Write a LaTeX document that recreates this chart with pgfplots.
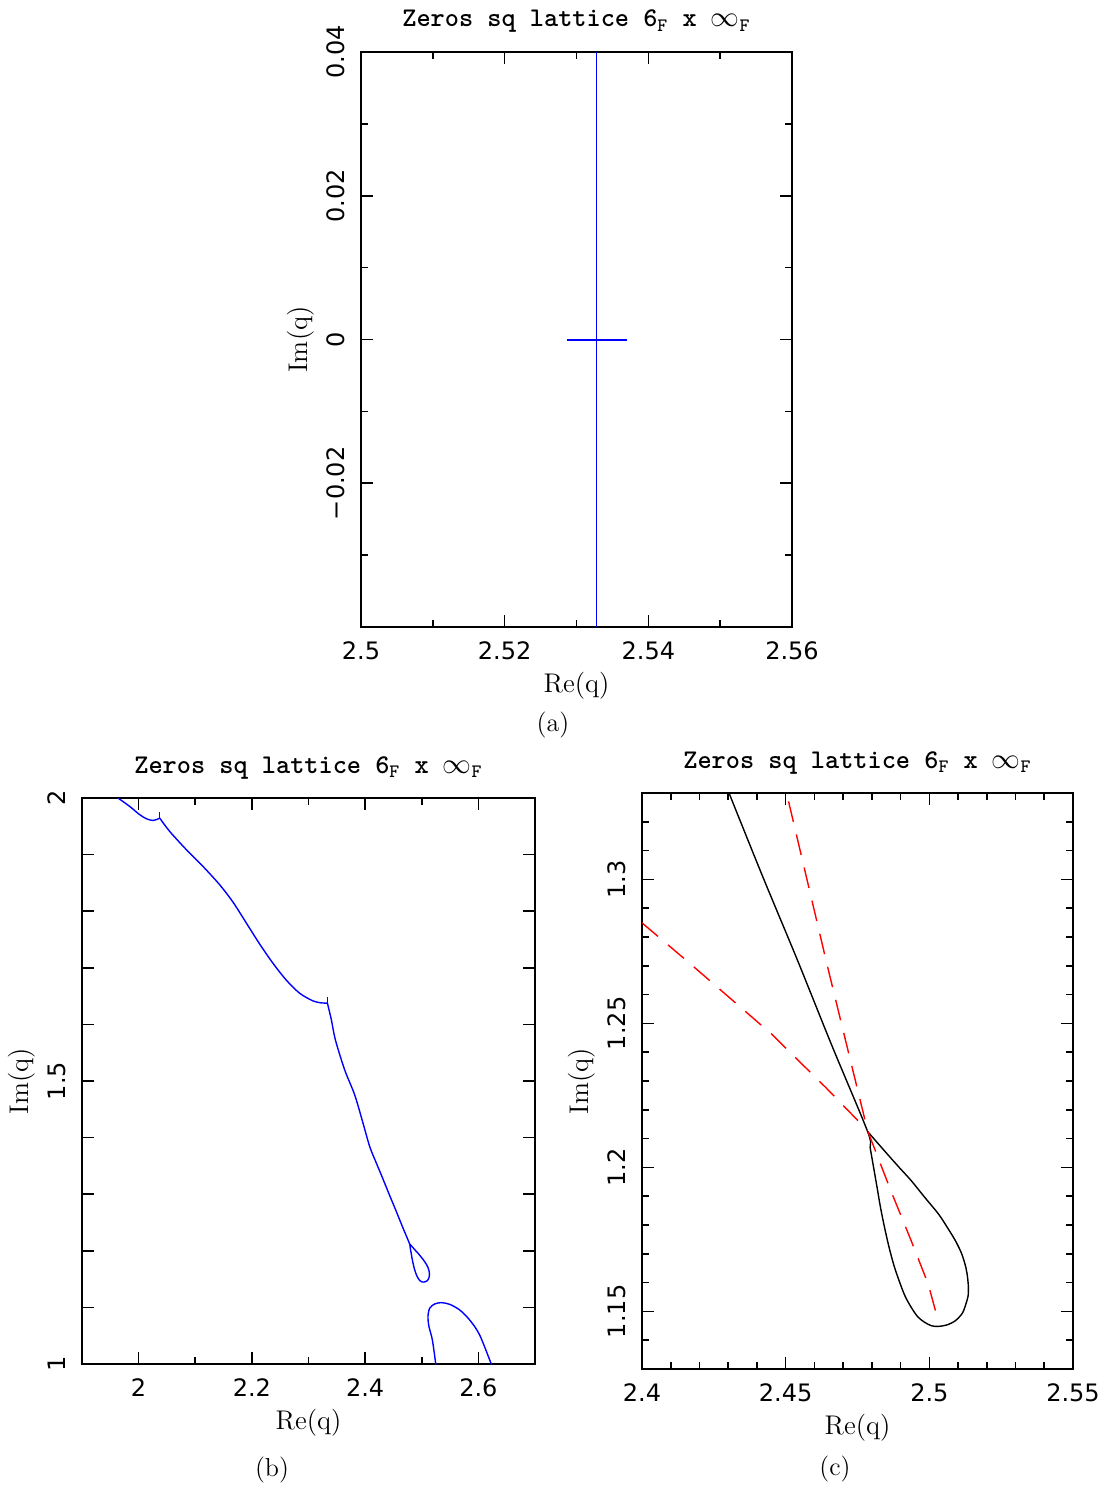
\documentclass[border=0pt]{standalone}
\usepackage{fontspec}
\usepackage{pgfplots}
\pgfplotsset{compat=1.18}
\newfontfamily\tickfont{DejaVu Sans}

\pgfplotsset{
  zstyle/.style={
    scale only axis,
    scaled x ticks=false, scaled y ticks=false,
    axis line style={line width=1pt},
    tick align=inside,
    xtick pos=both, ytick pos=both,
    xticklabel pos=lower, yticklabel pos=left,
    major tick length=6pt, minor tick length=3.5pt,
    every tick/.style={black, line width=0.8pt},
    tick label style={font=\fontsize{12}{14}\selectfont\tickfont},
    xticklabel style={anchor=base, yshift=-16pt},
    yticklabel style={rotate=90, anchor=south, inner ysep=8pt},
    xlabel={Re(q)}, ylabel={Im(q)},
    label style={font=\fontsize{13.5}{15}\selectfont},
    xlabel style={at={(axis description cs:0.5,0)}, anchor=base, yshift=-32.5pt},
    ylabel style={at={(axis description cs:0,0.5)}, anchor=south, inner ysep=23pt},
    title={Zeros sq lattice 6$_{\mathtt{F}}$ x $\infty_{\mathtt{F}}$},
    title style={at={(axis description cs:0.5,1)}, anchor=base, yshift=6.5pt,
      font=\fontsize{13.5}{15}\selectfont\ttfamily\bfseries},
  }
}

\begin{document}
\begin{tikzpicture}
\path[use as bounding box] (0pt,0pt) rectangle (552.5pt,-743.5pt);

% ---------------- (a)
\begin{axis}[zstyle,
  at={(180.5pt,-26pt)}, anchor=north west,
  width=215.5pt, height=287.5pt,
  xmin=2.5, xmax=2.56, ymin=-0.04, ymax=0.04,
  xtick={2.5,2.52,2.54,2.56}, xticklabels={2.5,2.52,2.54,2.56},
  minor xtick={2.51,2.53,2.55},
  ytick={-0.02,0,0.02,0.04}, yticklabels={−0.02,0,0.02,0.04},
  minor ytick={-0.03,-0.01,0.01,0.03},
]
\addplot[blue, line width=0.7pt] coordinates {(2.5328,-0.04) (2.5328,0.04)};
\addplot[blue, line width=1pt] coordinates {(2.5287,0) (2.5370,0)};
\end{axis}

% ---------------- (b)
\begin{axis}[zstyle,
  at={(41pt,-399pt)}, anchor=north west,
  width=226.5pt, height=283pt,
  xmin=1.9, xmax=2.7, ymin=1, ymax=2,
  xtick={2,2.2,2.4,2.6}, xticklabels={2,2.2,2.4,2.6},
  minor xtick={2.1,2.3,2.5},
  ytick={1,1.1,1.2,1.3,1.4,1.5,1.6,1.7,1.8,1.9,2},
  yticklabels={1,{},{},{},{},1.5,{},{},{},{},2},
]
\addplot[blue, line width=0.7pt, smooth] coordinates {
(1.9600,2.0030) (1.9636,2.0000) (1.9842,1.9852) (2.0019,1.9705) (2.0148,1.9629)
(2.0254,1.9604) (2.0342,1.9629) (2.0372,1.9646)
};
\addplot[blue, line width=0.7pt, smooth] coordinates {
(2.0372,1.9646) (2.0549,1.9410) (2.0844,1.9086) (2.1137,1.8791) (2.1432,1.8467)
(2.1667,1.8160) (2.1903,1.7790) (2.2138,1.7420) (2.2373,1.7080) (2.2610,1.6780)
(2.2845,1.6550) (2.3080,1.6415) (2.3228,1.6380) (2.3334,1.6376)
};
\addplot[blue, line width=0.7pt, smooth] coordinates {
(2.3334,1.6376) (2.3404,1.6081) (2.3475,1.5727) (2.3639,1.5197) (2.3816,1.4755)
(2.3963,1.4255) (2.4081,1.3842) (2.4190,1.3570) (2.4302,1.3302) (2.4420,1.3010)
(2.4540,1.2722) (2.4660,1.2425) (2.4785,1.2125)
(2.4794,1.2069) (2.4806,1.2000) (2.4818,1.1931) (2.4830,1.1861)
(2.4844,1.1792) (2.4860,1.1722) (2.4877,1.1659) (2.4895,1.1606) (2.4915,1.1554)
(2.4937,1.1514) (2.4960,1.1481) (2.4984,1.1462) (2.5008,1.1450) (2.5032,1.1448)
(2.5061,1.1453) (2.5091,1.1468) (2.5115,1.1494) (2.5127,1.1525) (2.5135,1.1554)
(2.5136,1.1583) (2.5133,1.1618) (2.5127,1.1653) (2.5113,1.1699) (2.5091,1.1745)
(2.5061,1.1794) (2.5032,1.1838) (2.4984,1.1896) (2.4937,1.1954) (2.4895,1.2000)
(2.4854,1.2046) (2.4818,1.2087) (2.4785,1.2125)
};
\addplot[blue, line width=0.7pt] coordinates {(2.0372,1.9646) (2.0372,1.9745)};
\addplot[blue, line width=0.7pt] coordinates {(2.3334,1.6376) (2.3334,1.6493)};
\addplot[blue, line width=0.7pt, smooth] coordinates {
(2.5250,0.9980) (2.5188,1.0424) (2.5128,1.0660) (2.5110,1.0836) (2.5140,1.0985)
(2.5229,1.1061) (2.5347,1.1084) (2.5493,1.1055) (2.5670,1.0955) (2.5847,1.0778)
(2.6023,1.0513) (2.6235,0.9980)
};
\end{axis}

% ---------------- (c)
\begin{axis}[zstyle,
  at={(321pt,-396.5pt)}, anchor=north west,
  width=215.5pt, height=288pt,
  xmin=2.4, xmax=2.55, ymin=1.13, ymax=1.33,
  xtick={2.4,2.45,2.5,2.55}, xticklabels={2.4,2.45,2.5,2.55},
  minor xtick={2.41,2.42,2.43,2.44,2.46,2.47,2.48,2.49,2.51,2.52,2.53,2.54},
  ytick={1.15,1.2,1.25,1.3}, yticklabels={1.15,1.2,1.25,1.3},
  minor ytick={1.14,1.16,1.17,1.18,1.19,1.21,1.22,1.23,1.24,1.26,1.27,1.28,1.29,1.31,1.32},
]
\addplot[black, line width=0.7pt, smooth] coordinates {
(2.4287,1.3340) (2.4302,1.3302) (2.4420,1.3010) (2.4540,1.2722) (2.4660,1.2425)
(2.4785,1.2125) (2.4794,1.2069) (2.4806,1.2000) (2.4818,1.1931) (2.4830,1.1861)
(2.4844,1.1792) (2.4860,1.1722) (2.4877,1.1659) (2.4895,1.1606) (2.4915,1.1554)
(2.4937,1.1514) (2.4960,1.1481) (2.4984,1.1462) (2.5008,1.1450) (2.5032,1.1448)
(2.5061,1.1453) (2.5091,1.1468) (2.5115,1.1494) (2.5127,1.1525) (2.5135,1.1554)
(2.5136,1.1583) (2.5133,1.1618) (2.5127,1.1653) (2.5113,1.1699) (2.5091,1.1745)
(2.5061,1.1794) (2.5032,1.1838) (2.4984,1.1896) (2.4937,1.1954) (2.4895,1.2000)
(2.4854,1.2046) (2.4818,1.2087) (2.4785,1.2125)
};
\addplot[red, line width=0.7pt, dash pattern=on 10.5pt off 6.5pt] coordinates {
(2.4510,1.3271) (2.4645,1.2700) (2.4785,1.2128) (2.4866,1.1919) (2.4937,1.1745)
(2.4996,1.1595) (2.5022,1.1500)
};
\addplot[red, line width=0.7pt, dash pattern=on 10.5pt off 6.5pt] coordinates {
(2.4000,1.2849) (2.4154,1.2719) (2.4451,1.2463) (2.4640,1.2277) (2.4785,1.2128)
};
\end{axis}

\node[font=\fontsize{13}{15}\selectfont] at (276.5pt,-362.5pt) {(a)};
\node[font=\fontsize{13}{15}\selectfont] at (136pt,-735pt) {(b)};
\node[font=\fontsize{13}{15}\selectfont] at (417.5pt,-734.5pt) {(c)};
\end{tikzpicture}
\end{document}
